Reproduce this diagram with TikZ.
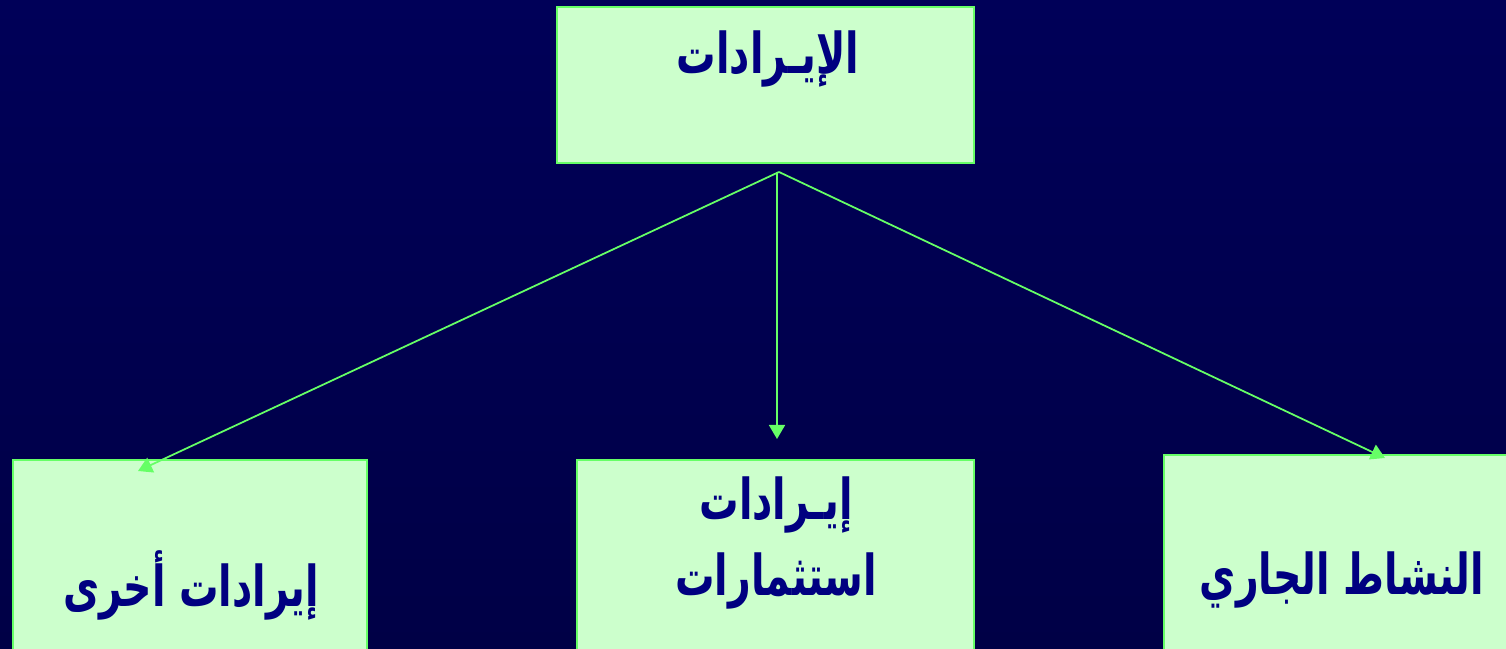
\documentclass[tikz,border=0pt]{standalone}
\usepackage{fontspec}
\usetikzlibrary{arrows.meta}
\TeXXeTstate=1
\newfontfamily\arabicfont[Script=Arabic,FakeStretch=0.7]{DejaVu Sans}
\definecolor{bgtop}{RGB}{0,0,88}
\definecolor{bgbot}{RGB}{0,0,70}
\definecolor{boxfill}{RGB}{204,255,204}
\definecolor{boxline}{RGB}{102,255,102}
\definecolor{txt}{RGB}{0,0,128}
\tikzset{
  box/.style={draw=boxline, fill=boxfill, line width=0.7pt, inner sep=0pt},
  lbl/.style={text=txt, font=\arabicfont\bfseries\fontsize{16}{21.5}\selectfont, align=center, inner sep=0pt},
  conn/.style={draw=boxline, line width=0.5pt, -{Triangle[length=0.14cm,width=0.16cm]}}
}
\begin{document}
\begin{tikzpicture}[x=0.01cm,y=-0.01cm]
\useasboundingbox (0,0) rectangle (1506,649);
\shade[top color=bgtop, bottom color=bgbot] (0,0) rectangle (1506,649);
\node[box, minimum width=417*0.01cm, minimum height=156*0.01cm] (top) at (765.5,85) {};
\node[box, minimum width=354*0.01cm, minimum height=192*0.01cm] (left) at (190,556) {};
\node[box, minimum width=397*0.01cm, minimum height=192*0.01cm] (mid) at (775.5,556) {};
\node[box, minimum width=346*0.01cm, minimum height=197*0.01cm] (right) at (1337,553.5) {};
\node[lbl] (ttop) at (768,59) {\beginR الإيـرادات\endR};
\node[lbl] (tleft) at (191,585) {\beginR إيرادات أخرى\endR};
\node[lbl] (tmid) at (776,543) {\beginR إيـرادات\endR\\\beginR استثمارات\endR};
\node[lbl] (tright) at (1342,580) {\beginR النشاط الجاري\endR};
\coordinate (src) at (779,172);
\coordinate (eleft) at (138,471);
\coordinate (emid) at (777,439);
\coordinate (eright) at (1385,458);
\draw[conn] (src) -- (eleft);
\draw[conn] (src -| emid) -- (emid);
\draw[conn] (src) -- (eright);
\end{tikzpicture}
\end{document}
